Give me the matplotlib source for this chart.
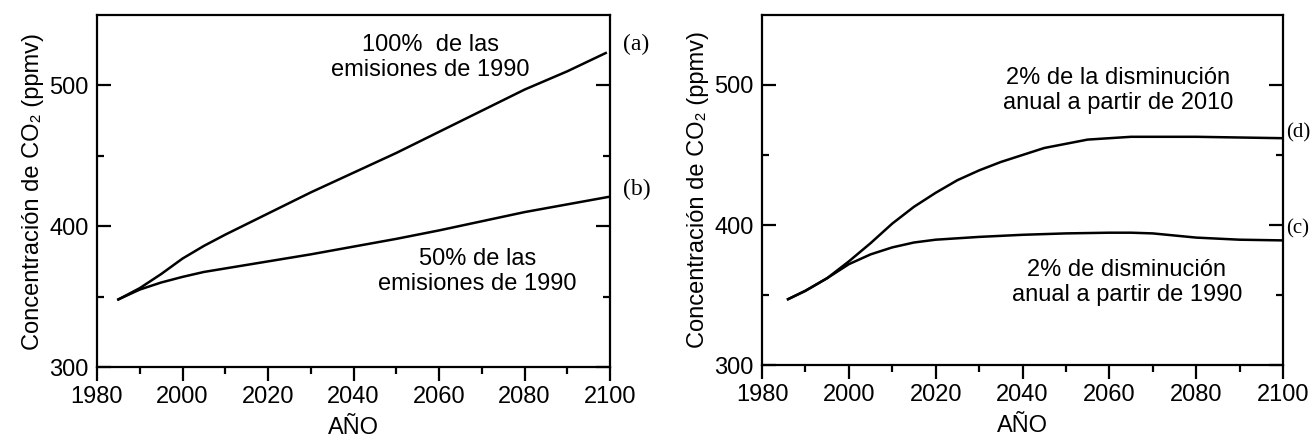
import matplotlib
matplotlib.use("Agg")

import matplotlib.pyplot as plt

plt.rcParams["font.family"] = ["Liberation Sans", "DejaVu Sans"]

# left panel: fixed emissions scenarios
years_a = [1985, 1990, 1995, 2000, 2005, 2010, 2020, 2030, 2040, 2050, 2060, 2070, 2080, 2090, 2099]
co2_a = [348, 356, 366, 377, 386, 394, 409, 424, 438, 452, 467, 482, 497, 510, 523]
years_b = [1985, 1990, 1995, 2000, 2005, 2010, 2020, 2030, 2040, 2050, 2060, 2070, 2080, 2090, 2100]
co2_b = [348, 355, 360, 364, 367.5, 370, 375, 380, 385.5, 391, 397, 403.5, 410, 415.5, 421]

# right panel: annual reduction scenarios
years_d = [1986, 1990, 1995, 2000, 2005, 2010, 2015, 2020, 2025, 2030, 2035, 2040, 2045,
           2050, 2055, 2060, 2065, 2070, 2080, 2090, 2100]
co2_d = [347, 353, 362, 374, 387, 401, 413, 423, 432, 439, 445, 450, 455,
         458, 461, 462, 463, 463, 463, 462.5, 462]
years_c = [1986, 1990, 1995, 2000, 2005, 2010, 2015, 2020, 2030, 2040, 2050, 2060, 2065,
           2070, 2080, 2090, 2100]
co2_c = [347, 353, 362, 372, 379, 384, 387.5, 389.5, 391.5, 393, 394, 394.5, 394.5,
         394, 391, 389.5, 389]

ylabel = "Concentración de CO\u2082 (ppmv)"

fig = plt.figure(figsize=(13.1, 4.44), dpi=100)
ax1 = fig.add_axes([97 / 1310, 77 / 444, 513 / 1310, 352 / 444])
ax2 = fig.add_axes([762 / 1310, 79 / 444, 521 / 1310, 350 / 444])


def style(ax):
    ax.set_xlim(1980, 2100)
    ax.set_ylim(300, 550)
    ax.set_xticks(range(1980, 2101, 20))
    ax.set_xticks(range(1990, 2100, 20), minor=True)
    ax.set_yticks([300, 400, 500])
    ax.set_yticks([350, 450], minor=True)
    for s in ax.spines.values():
        s.set_linewidth(1.6)
    ax.tick_params(axis="x", which="both", direction="out", width=1.6, labelsize=17, pad=4)
    ax.tick_params(axis="x", which="major", length=10)
    ax.tick_params(axis="x", which="minor", length=5)
    ax.tick_params(axis="y", which="both", direction="in", width=1.6, right=True,
                   labelsize=17, pad=6)
    ax.tick_params(axis="y", which="major", length=10)
    ax.tick_params(axis="y", which="minor", length=5)
    ax.set_xlabel("AÑO", fontsize=17, labelpad=6)
    ax.set_ylabel(ylabel, fontsize=17, labelpad=4)


style(ax1)
ax1.plot(years_a, co2_a, color="black", linewidth=1.8)
ax1.plot(years_b, co2_b, color="black", linewidth=1.8)
ax1.text(2058, 520, "100%  de las\nemisiones de 1990", ha="center", va="center",
         fontsize=17, linespacing=1.2)
ax1.text(2069, 368, "50% de las\nemisiones de 1990", ha="center", va="center",
         fontsize=17, linespacing=1.2)
ax1.text(2103, 529, "(a)", fontsize=17, family="Liberation Serif", va="center")
ax1.text(2103, 426, "(b)", fontsize=17, family="Liberation Serif", va="center")

style(ax2)
ax2.plot(years_d, co2_d, color="black", linewidth=1.8)
ax2.plot(years_c, co2_c, color="black", linewidth=1.8)
ax2.text(2062, 496, "2% de la disminución\nanual a partir de 2010", ha="center", va="center",
         fontsize=17, linespacing=1.2)
ax2.text(2064, 359, "2% de disminución\nanual a partir de 1990", ha="center", va="center",
         fontsize=17, linespacing=1.2)
ax2.text(2100.8, 466, "(d)", fontsize=15, family="Liberation Serif", va="center")
ax2.text(2100.8, 397, "(c)", fontsize=15, family="Liberation Serif", va="center")

fig.savefig("out.png", dpi=100)
plt.close(fig)
